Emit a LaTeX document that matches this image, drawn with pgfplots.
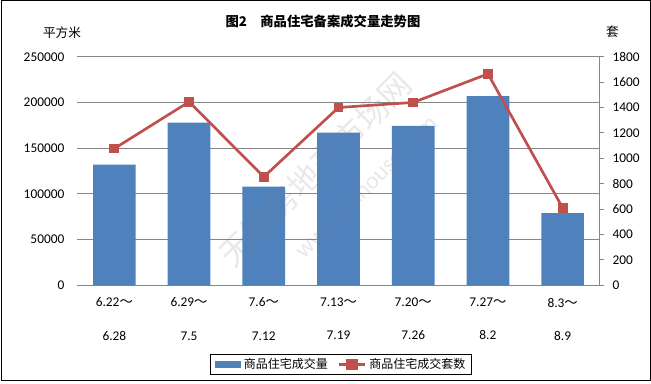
\documentclass[border=0pt]{standalone}
\usepackage{pgfplots}
\pgfplotsset{compat=1.18}
\usepackage{fontspec}
\setmainfont{Carlito}
\newfontfamily\cjk{Noto Sans CJK SC}
\definecolor{barblue}{HTML}{4F81BD}
\definecolor{linered}{HTML}{C0504D}
\definecolor{gridgray}{HTML}{868686}
\begin{document}
\begin{tikzpicture}
\path[use as bounding box] (0,0) rectangle (488.25pt,287.25pt);
\draw[black,line width=0.75pt] (0.75pt,2.25pt) rectangle (487.5pt,286.5pt);
\begin{axis}[
 at={(57.75pt,73.3pt)}, anchor=south west,
 scale only axis, width=392.25pt, height=171.4pt,
 xmin=-0.5, xmax=6.5, ymin=0, ymax=250000,
 ybar, bar width=32pt,
 axis x line*=bottom, axis y line*=left,
 x axis line style={draw=gridgray, line width=0.75pt, -},
 y axis line style={draw=none},
 ytick={0,50000,...,250000},
 ymajorgrids, grid style={gridgray, line width=0.75pt},
 major tick length=0pt,
 scaled y ticks=false,
 /pgf/number format/assume math mode=true,
 yticklabel style={/pgf/number format/fixed, /pgf/number format/1000 sep={}, font=\fontsize{10}{12}\selectfont, xshift=-6pt},
 xtick={0,...,6},
 xticklabels={{6.22{\cjk ～}\\[13pt]6.28},{6.29{\cjk ～}\\[13pt]7.5},{7.6{\cjk ～}\\[13pt]7.12},{7.13{\cjk ～}\\[13pt]7.19},{7.20{\cjk ～}\\[13pt]7.26},{7.27{\cjk ～}\\[13pt]8.2},{8.3{\cjk ～}\\[13pt]8.9}},
 xticklabel style={align=center, font=\fontsize{10}{12}\selectfont, yshift=-6pt},
]
\addplot[fill=barblue, draw=none] coordinates {(0,132000) (1,178000) (2,108000) (3,167000) (4,174500) (5,207000) (6,79000)};
\end{axis}
\begin{axis}[
 at={(57.75pt,73.3pt)}, anchor=south west,
 scale only axis, width=392.25pt, height=171.4pt,
 xmin=-0.5, xmax=6.5, ymin=0, ymax=1800,
 axis y line*=right, axis x line=none,
 y axis line style={draw=gridgray, line width=0.75pt, -},
 ytick={0,200,...,1800},
 tick style={gridgray, line width=0.75pt},
 major tick length=3pt, tick align=outside,
 /pgf/number format/assume math mode=true,
 yticklabel style={/pgf/number format/fixed, /pgf/number format/1000 sep={}, font=\fontsize{10}{12}\selectfont, xshift=3pt},
 legend style={at={(0.5057,-0.3466)}, anchor=center, draw=black, line width=0.75pt, font=\cjk\fontsize{9}{11}\selectfont, inner xsep=3pt, inner ysep=1pt},
 legend columns=2,
 /tikz/every even column/.append style={column sep=5pt},
]
\addlegendimage{legend image code/.code={\fill[barblue] (0pt,-2pt) rectangle (19pt,2pt);}}
\addlegendentry{商品住宅成交量}
\addplot[linered, line width=2pt, mark=square*, mark size=3.3pt, mark options={fill=linered, draw=linered, line width=0pt},
 legend image code/.code={\draw[linered,line width=2pt] (0pt,0pt) -- (20pt,0pt); \fill[linered] (6.5pt,-3pt) rectangle (13.5pt,3pt);}]
 coordinates {(0,1077) (1,1445) (2,854) (3,1400) (4,1440) (5,1665) (6,610)};
\addlegendentry{商品住宅成交套数}
\end{axis}
\node[font=\cjk\bfseries\fontsize{10}{12}\selectfont] at (242.25pt,271.5pt) {图2　商品住宅备案成交量走势图};
\node[font=\cjk\fontsize{9.5}{11}\selectfont] at (46.5pt,262.5pt) {平方米};
\node[font=\cjk\fontsize{9.5}{11}\selectfont] at (459.4pt,263.25pt) {套};
\node[rotate=45, text=gray, opacity=0.18, font=\cjk\fontsize{24}{28}\selectfont] at (236.4pt,160.4pt) {无锡房地产市场网};
\node[rotate=45, text=gray, opacity=0.18, font=\fontsize{18}{22}\selectfont] at (274.6pt,147.6pt) {www.wxhouse.com};
\end{tikzpicture}
\end{document}
